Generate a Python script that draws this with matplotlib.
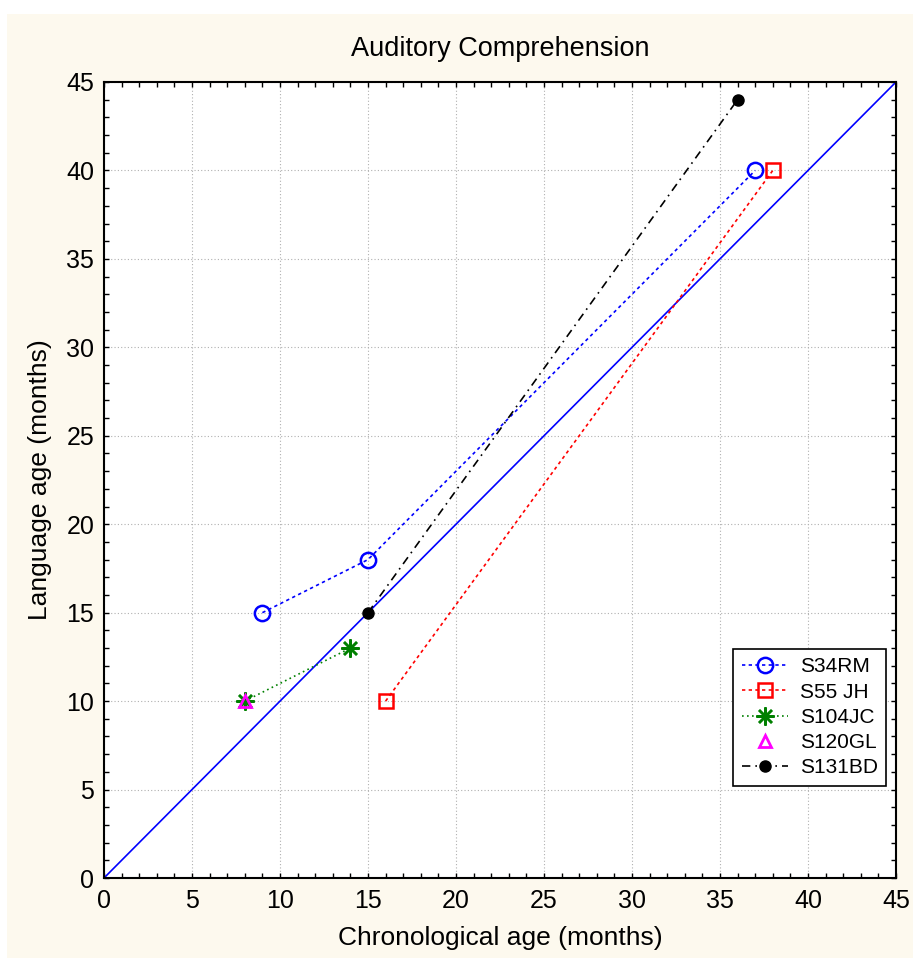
import matplotlib
matplotlib.use("Agg")
import matplotlib.pyplot as plt
from matplotlib.patches import Rectangle
from matplotlib.ticker import MultipleLocator

plt.rcParams['font.family'] = ['Liberation Sans', 'DejaVu Sans']

# data (chronological age, language age)
s34rm_x = [9, 15, 37]
s34rm_y = [15, 18, 40]
s55jh_x = [16, 38]
s55jh_y = [10, 40]
s104jc_x = [8, 14]
s104jc_y = [10, 13]
s120gl_x = [8]
s120gl_y = [10]
s131bd_x = [15, 36]
s131bd_y = [15, 44]
ticks = list(range(0, 50, 5))

fig = plt.figure(figsize=(9.13, 9.63), dpi=100)
fig.patch.set_facecolor('white')
fig.patches.append(Rectangle((7 / 913, 5 / 963), 906 / 913, 944 / 963,
                             transform=fig.transFigure, facecolor='#fdf9ee',
                             edgecolor='none', zorder=-10))

ax = fig.add_axes([104 / 913, 1 - 878 / 963, 792 / 913, 796 / 963])
ax.set_facecolor('white')

ax.plot([0, 45], [0, 45], color='#0000ff', lw=1.2, zorder=2)

ax.plot(s34rm_x, s34rm_y, color='#0000ff', ls=(0, (2, 2)), lw=1.2,
        marker='o', ms=11, mfc='none', mec='#0000ff', mew=1.8,
        label='S34RM', zorder=3)
ax.plot(s55jh_x, s55jh_y, color='#ff0000', ls=(0, (2, 2)), lw=1.2,
        marker='s', ms=10, mfc='none', mec='#ff0000', mew=1.8,
        label='S55 JH', zorder=3)
ax.plot(s104jc_x, s104jc_y, color='#008000', ls=(0, (1, 2)), lw=1.2,
        marker=(8, 2, 0), ms=13, mec='#008000', mew=1.8,
        label='S104JC', zorder=3)
ax.plot(s120gl_x, s120gl_y, ls='none', marker='^', ms=8, mfc='none',
        mec='#ff00ff', mew=2, label='S120GL', zorder=4)
ax.plot(s131bd_x, s131bd_y, color='black', ls=(0, (5, 3, 1, 3)), lw=1.2,
        marker='o', ms=8, mfc='black', mec='black',
        label='S131BD', zorder=3)

ax.set_xlim(0, 45)
ax.set_ylim(0, 45)
ax.set_xticks(ticks)
ax.set_yticks(ticks)
ax.xaxis.set_minor_locator(MultipleLocator(1))
ax.yaxis.set_minor_locator(MultipleLocator(1))
ax.tick_params(which='both', direction='in', top=True, right=True,
               labelsize=18, length=3.5, width=1)
ax.tick_params(axis='x', pad=8)
ax.tick_params(axis='y', pad=7)
ax.grid(True, which='major', color='#b0b0b0', ls=(0, (1, 2)), lw=0.8)
for sp in ax.spines.values():
    sp.set_linewidth(1.5)

ax.set_title('Auditory Comprehension', fontsize=19.5, pad=19)
ax.set_xlabel('Chronological age (months)', fontsize=19, labelpad=9)
ax.set_ylabel('Language age (months)', fontsize=19, labelpad=10)

leg = ax.legend(loc='lower right', bbox_to_anchor=(0.988, 0.116),
                fontsize=15, fancybox=False, framealpha=1, edgecolor='black',
                handlelength=2.2, handletextpad=0.6, borderpad=0.4,
                labelspacing=0.3, borderaxespad=0)
leg.get_frame().set_linewidth(1.2)

fig.savefig('out.png', dpi=100, facecolor=fig.get_facecolor())
